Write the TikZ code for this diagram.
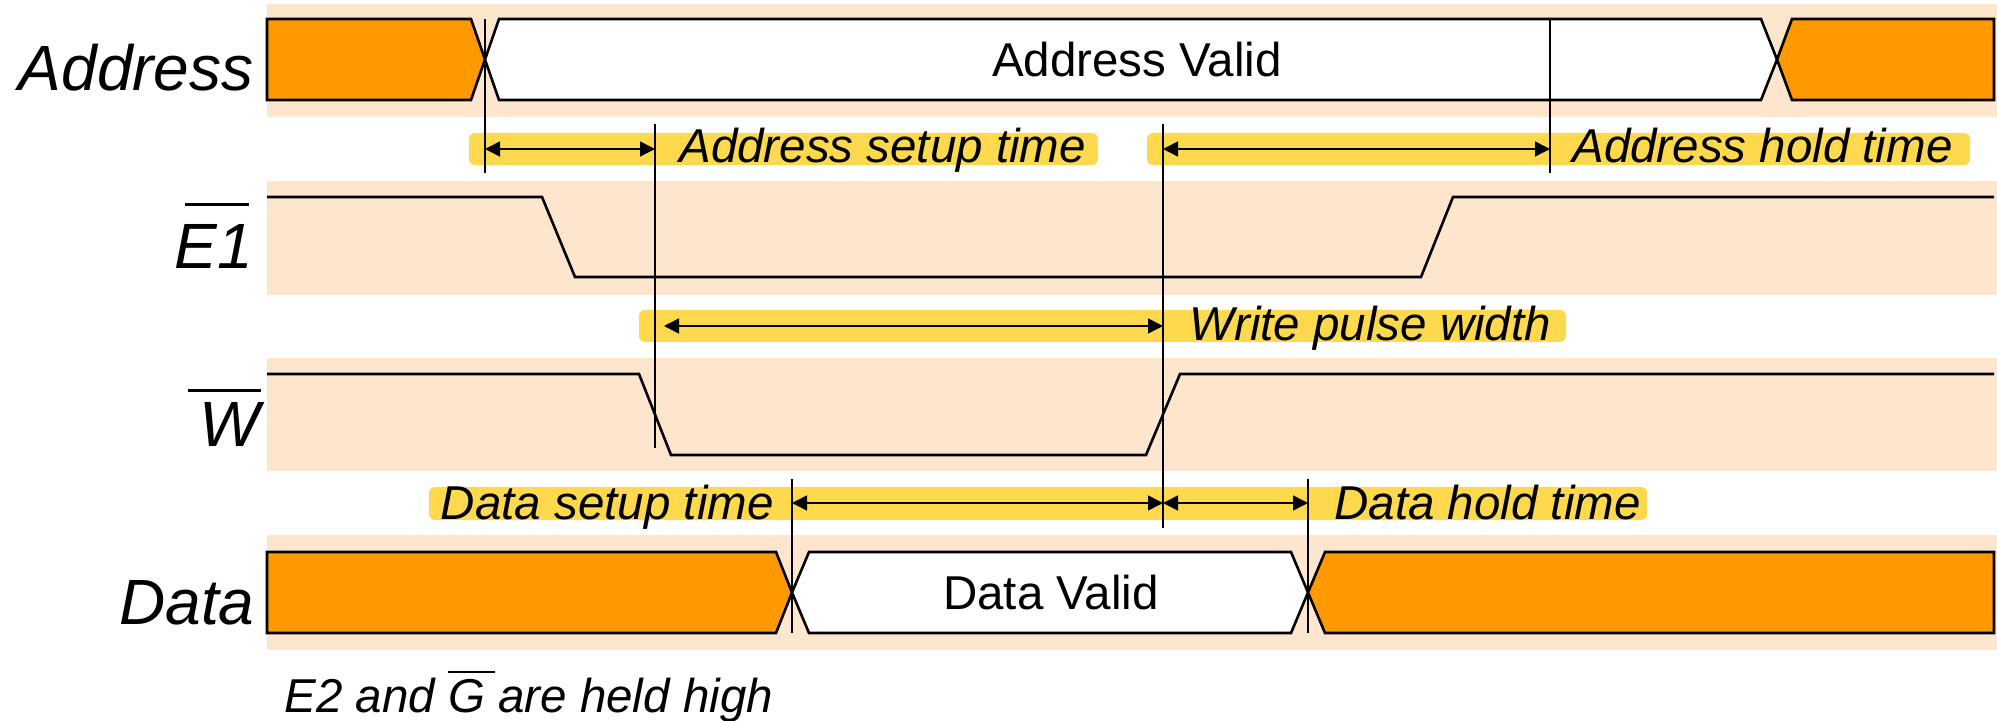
\documentclass[tikz,border=0pt]{standalone}
\usepackage{fontspec}
\setmainfont{Liberation Sans}
\usetikzlibrary{arrows.meta}
\definecolor{bandc}{RGB}{253,229,206}
\definecolor{busc}{RGB}{255,153,0}
\definecolor{hlc}{RGB}{255,217,77}
\newcommand\ovbar[5]{\rlap{\kern#1\rule[#2]{#3}{#4}}#5}
\begin{document}
\begin{tikzpicture}[x=0.5pt,y=-0.5pt,
  bandbox/.style={fill=bandc,draw=none},
  sig/.style={draw=black,line width=1.3pt,line join=miter},
  busbox/.style={sig,fill=busc},
  validbox/.style={sig,fill=white},
  marker/.style={draw=black,line width=0.6pt},
  hlbar/.style={fill=hlc,draw=none,rounded corners=3pt},
  dim/.style={draw=black,line width=0.75pt,{Triangle[length=7.5pt,width=7.5pt]}-{Triangle[length=7.5pt,width=7.5pt]}},
  lab/.style={font=\fontsize{32}{38}\selectfont\itshape,inner sep=0pt,anchor=base east},
  note/.style={font=\fontsize{23.75}{28}\selectfont\itshape,inner sep=0pt},
  vtext/.style={font=\fontsize{23.75}{28}\selectfont,inner sep=0pt,anchor=base},
]
\useasboundingbox (0,0) rectangle (1997,721);

% bands
\fill[bandbox] (267,4) rectangle (1997,117);
\fill[bandbox] (267,181) rectangle (1997,295);
\fill[bandbox] (267,358) rectangle (1997,471);
\fill[bandbox] (267,535) rectangle (1997,650);

% highlight bars
\fill[hlbar] (469,133) rectangle (1098,165);
\fill[hlbar] (1147,133) rectangle (1970,165);
\fill[hlbar] (639,310) rectangle (1566,342);
\fill[hlbar] (429,487) rectangle (1647,520);

% Address bus
\draw[busbox] (267,19) -- (471,19) -- (485,59.5) -- (471,100) -- (267,100) -- cycle;
\draw[validbox] (485,59.5) -- (499,19) -- (1761,19) -- (1777,59.5) -- (1761,100) -- (499,100) -- cycle;
\draw[busbox] (1777,59.5) -- (1792,19) -- (1994,19) -- (1994,100) -- (1792,100) -- cycle;
\node[vtext] (av) at (1137,77) {Address Valid};

% E1
\draw[sig] (267,197) -- (542,197) -- (575,277) -- (1421,277) -- (1453,197) -- (1994,197);
% W
\draw[sig] (267,374) -- (639,374) -- (671,455) -- (1146,455) -- (1180,374) -- (1994,374);

% Data bus
\draw[busbox] (267,552) -- (776,552) -- (792,592.5) -- (776,633) -- (267,633) -- cycle;
\draw[validbox] (792,592.5) -- (809,552) -- (1291,552) -- (1308,592.5) -- (1291,633) -- (809,633) -- cycle;
\draw[busbox] (1308,592.5) -- (1325,552) -- (1994,552) -- (1994,633) -- (1325,633) -- cycle;
\node[vtext] (dv) at (1051,609) {Data Valid};

% labels
\node[lab] (lA) at (254,91) {Address};
\node[lab] (lE) at (253,269) {\ovbar{0.16em}{0.977em}{1.0em}{0.05em}{E1}};
\node[lab] (lW) at (260,446) {\ovbar{-0.18em}{0.836em}{1.14em}{0.05em}{W}};
\node[lab] (lD) at (255,624) {Data};

% marker lines
\coordinate (m1t) at (485,19);   \coordinate (m1b) at (485,173);
\coordinate (m2t) at (655,124);  \coordinate (m2b) at (655,448);
\coordinate (m3t) at (1163,124); \coordinate (m3b) at (1163,528);
\coordinate (m4t) at (1550,19);  \coordinate (m4b) at (1550,173);
\coordinate (m5t) at (792,479);  \coordinate (m5b) at (792,633);
\coordinate (m6t) at (1308,479); \coordinate (m6b) at (1308,633);
\draw[marker] (m1t) -- (m1b);
\draw[marker] (m2t) -- (m2b);
\draw[marker] (m3t) -- (m3b);
\draw[marker] (m4t) -- (m4b);
\draw[marker] (m5t) -- (m5b);
\draw[marker] (m6t) -- (m6b);

% dimension arrows
\coordinate (asL) at (485,149);  \coordinate (asR) at (655,149);
\coordinate (ahL) at (1163,149); \coordinate (ahR) at (1550,149);
\coordinate (wpL) at (664,326);  \coordinate (wpR) at (1163,326);
\coordinate (dsL) at (792,503);  \coordinate (dsR) at (1163,503);
\coordinate (dhR) at (1308,503);
\draw[dim] (asL) -- (asR);
\draw[dim] (ahL) -- (ahR);
\draw[dim] (wpL) -- (wpR);
\draw[dim] (dsL) -- (dsR);
\draw[dim] (dsR) -- (dhR);

% annotation texts
\node[note,anchor=base west] (tas) at (679,163) {Address setup time};
\node[note,anchor=base west] (tah) at (1572,163) {Address hold time};
\node[note,anchor=base west] (twp) at (1189,341) {Write pulse width};
\node[note,anchor=base east] (tds) at (774,519) {Data setup time};
\node[note,anchor=base west] (tdh) at (1334,519) {Data hold time};

\node[note,anchor=base west] (nb) at (284,712) {E2 and \ovbar{0em}{0.815em}{0.99em}{0.053em}{G} are held high};
\end{tikzpicture}
\end{document}
